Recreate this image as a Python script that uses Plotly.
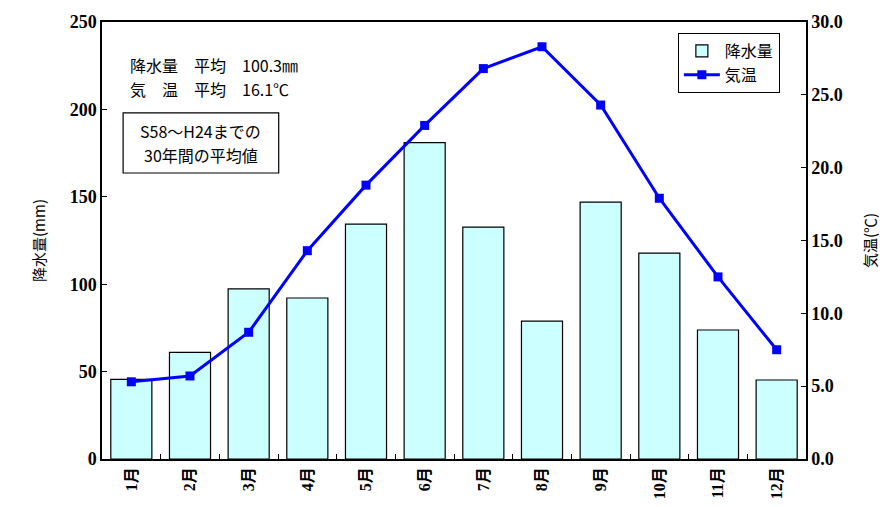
import plotly.graph_objects as go

months = ["1月", "2月", "3月", "4月", "5月", "6月", "7月", "8月", "9月", "10月", "11月", "12月"]
precip = [45.6, 61.0, 97.3, 92.1, 134.4, 181.0, 132.7, 78.9, 147.0, 117.8, 73.8, 45.2]
temp = [5.3, 5.7, 8.7, 14.3, 18.8, 22.9, 26.8, 28.3, 24.3, 17.9, 12.5, 7.5]
y1_ticks = [0, 50, 100, 150, 200, 250]
y2_ticks = [0, 5, 10, 15, 20, 25, 30]

serif = "Liberation Serif"
jp = "Noto Sans CJK JP"

fig = go.Figure()
fig.add_trace(go.Bar(
    x=months, y=precip, name="降水量",
    marker=dict(color="#CCFFFF", line=dict(color="black", width=1.2)),
    yaxis="y",
))
fig.add_trace(go.Scatter(
    x=months, y=temp, name="気温", mode="lines+markers",
    line=dict(color="#0000FF", width=3),
    marker=dict(symbol="square", size=9, color="#0000FF"),
    yaxis="y2",
))

# page body has an 8px default margin; size the figure to compensate
fig.update_layout(
    width=879, height=499,
    margin=dict(l=94, r=81, t=14, b=48),
    paper_bgcolor="white", plot_bgcolor="white",
    bargap=0.3,
    showlegend=True,
    legend=dict(
        x=0.818, y=0.975, xanchor="left", yanchor="top",
        bordercolor="black", borderwidth=1, bgcolor="white",
        font=dict(family=jp, size=16, color="black"),
        tracegroupgap=0, itemwidth=36,
    ),
    xaxis=dict(
        type="category", range=[-0.5, len(months) - 0.5],
        showline=True, linecolor="black", linewidth=1.5,
        mirror=True, ticks="inside", tickson="boundaries", ticklen=5,
        tickcolor="black", tickangle=-90, automargin=False,
        tickfont=dict(family=serif + ", " + jp, size=16, color="black", weight="bold"),
        showgrid=False,
    ),
    yaxis=dict(
        range=[0, 250], tickvals=y1_ticks, showline=True, linecolor="black",
        linewidth=1.5, ticks="inside", ticklen=5, tickcolor="black", automargin=False,
        tickfont=dict(family=serif, size=18, color="black", weight="bold"),
        showgrid=False, zeroline=False,
        title=dict(text="降水量(mm)", font=dict(family=jp, size=15, color="black"), standoff=20),
    ),
    yaxis2=dict(
        range=[0, 30], tickvals=y2_ticks, ticktext=[f"{v:.1f}" for v in y2_ticks],
        overlaying="y", side="right", showline=True, linecolor="black",
        linewidth=1.5, ticks="inside", ticklen=5, tickcolor="black", automargin=False,
        tickfont=dict(family=serif, size=18, color="black", weight="bold"),
        showgrid=False, zeroline=False,
        title=dict(text="気温(℃)", font=dict(family=jp, size=15, color="black"), standoff=24),
    ),
    shapes=[
        dict(type="rect", xref="paper", yref="paper", x0=0.03, x1=0.251, y0=0.6545, y1=0.792,
             line=dict(color="black", width=1.2), fillcolor="white", layer="above"),
    ],
    annotations=[
        dict(
            xref="paper", yref="paper", x=0.037, y=0.902, xanchor="left", yanchor="middle",
            text="降水量　平均　100.3㎜",
            showarrow=False, align="left",
            font=dict(family=jp, size=16, color="black"),
        ),
        dict(
            xref="paper", yref="paper", x=0.037, y=0.846, xanchor="left", yanchor="middle",
            text="気　温　平均　16.1℃",
            showarrow=False, align="left",
            font=dict(family=jp, size=16, color="black"),
        ),
        dict(
            xref="paper", yref="paper", x=0.1405, y=0.7506, xanchor="center", yanchor="middle",
            text="S58～H24までの", showarrow=False,
            font=dict(family=jp, size=16, color="black"),
        ),
        dict(
            xref="paper", yref="paper", x=0.1405, y=0.6957, xanchor="center", yanchor="middle",
            text="30年間の平均値", showarrow=False,
            font=dict(family=jp, size=16, color="black"),
        ),
    ],
)

fig.write_html("out.html")
